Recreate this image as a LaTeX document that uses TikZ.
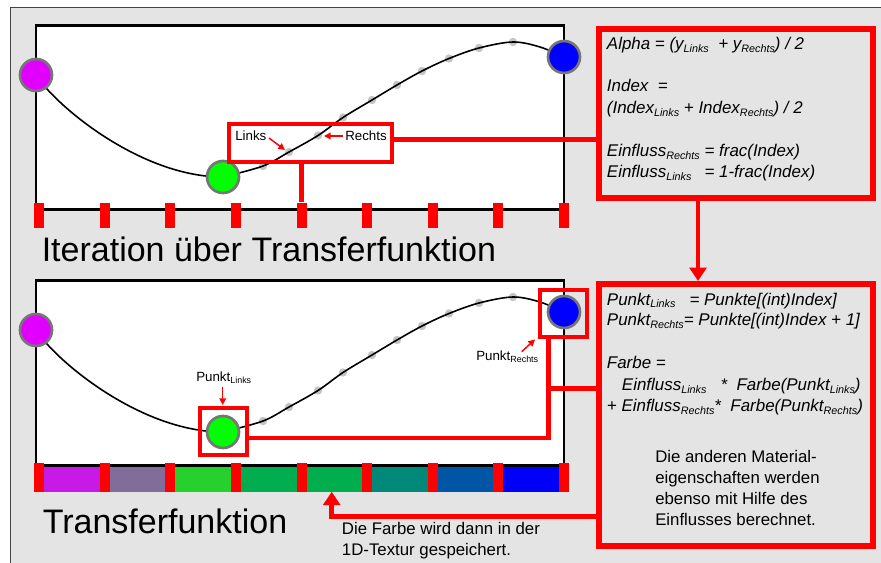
\documentclass[tikz,border=0pt]{standalone}
\usepackage{fontspec}
\setmainfont{Liberation Sans}
\usetikzlibrary{arrows.meta,calc}
\definecolor{bggray}{HTML}{E4E4E4}
\definecolor{framegray}{HTML}{444444}
\definecolor{ringgray}{HTML}{767676}
\definecolor{dotgray}{HTML}{C4C4C4}
\definecolor{mag}{HTML}{E100FF}
\definecolor{grn}{HTML}{00FF00}
\definecolor{blu}{HTML}{0000FF}
\definecolor{cA}{HTML}{C81AE6}
\definecolor{cB}{HTML}{826C99}
\definecolor{cC}{HTML}{26D12E}
\definecolor{cD}{HTML}{00AE50}
\definecolor{cE}{HTML}{00AE4E}
\definecolor{cF}{HTML}{008878}
\definecolor{cG}{HTML}{0055A4}
\definecolor{cH}{HTML}{0000F8}
\newcommand\sbx[1]{\raisebox{-2.2pt}{\fontsize{8.1}{9}\selectfont #1}}
\newcommand\sbl[1]{\raisebox{-1.5pt}{\fontsize{6.7}{8}\selectfont #1}}
\begin{document}
\begin{tikzpicture}[x=0.75pt,y=-0.75pt,
  conn/.style={draw=red, line width=3.4pt},
  rbig/.style={draw=red, line width=4.5pt, fill=bggray, rectangle, inner sep=0pt},
  rsmall/.style={draw=red, line width=3pt, rectangle, inner sep=0pt},
  ball/.style={circle, draw=ringgray, line width=2pt, minimum size=24pt, inner sep=0pt},
  tickup/.style={rectangle, fill=red, inner sep=0pt, minimum width=7.5pt, minimum height=18.75pt},
  ticklo/.style={rectangle, fill=red, inner sep=0pt, minimum width=7.5pt, minimum height=21.75pt},
  txt/.style={anchor=base west, inner sep=0pt, font=\fontsize{12.6}{15}\selectfont},
  itxt/.style={anchor=base west, inner sep=0pt, font=\fontsize{12.7}{15}\selectfont\itshape},
  lbl/.style={anchor=base west, inner sep=0pt, font=\fontsize{10}{12}\selectfont},
  big/.style={anchor=base west, inner sep=0pt, font=\fontsize{25.5}{30}\selectfont},
  smallarr/.style={draw=red, line width=1.1pt, -{Triangle[length=5pt,width=5pt]}},
  bigarr/.style={conn, -{Triangle[length=10pt,width=12.5pt]}},
  curve/.style={line width=1.2pt}
]
\useasboundingbox (0,0) rectangle (881,563);
\clip (0,0) rectangle (881,563);
% background panel
\draw[draw=framegray, line width=1.1pt, fill=bggray] (10.5,7.5) rectangle (900,600);

% plot frames
\draw[line width=2pt, fill=white] (36,25.7) rectangle (564,209.7);
\draw[line width=2pt, fill=white] (36,280.3) rectangle (564,465.3);

% colour bar
\fill[cA] (39,466.7) rectangle (104.6,491.7);
\fill[cB] (104.6,466.7) rectangle (170.2,491.7);
\fill[cC] (170.2,466.7) rectangle (235.9,491.7);
\fill[cD] (235.9,466.7) rectangle (301.5,491.7);
\fill[cE] (301.5,466.7) rectangle (367.1,491.7);
\fill[cF] (367.1,466.7) rectangle (432.8,491.7);
\fill[cG] (432.8,466.7) rectangle (498.4,491.7);
\fill[cH] (498.4,466.7) rectangle (564,491.7);
\coordinate (barb) at (331.7,491.7);

% curves, dots, control points
\foreach \s in {0,255}{
  \begin{scope}[shift={(0,\s)}]
    \foreach \px/\py in {263/166,289/152,318/135.5,343/117.5,372/100,397/85,422/71,449/58.5,479/48,513/42}
      \fill[dotgray] (\px,\py) circle[radius=4.2];
    \draw[curve] (36,75) .. controls (55,105) and (140,177) .. (223,177);
    \draw[curve] plot[smooth,tension=0.55] coordinates {(223,177) (263,166) (289,152) (318,135.5) (343,117.5) (372,100) (397,85) (422,71) (449,58.5) (479,48) (513,42) (540,47) (564,57)};
    \node[ball, fill=mag] (mag\s) at (36,75) {};
    \node[ball, fill=grn] (grn\s) at (223,177) {};
    \node[ball, fill=blu] (blu\s) at (564,57) {};
  \end{scope}
}
\coordinate (d2) at (289,152);
\coordinate (d3) at (318,135.5);

% ticks
\foreach \i/\tx in {1/39,2/104.6,3/170.2,4/235.9,5/301.5,6/367.1,7/432.8,8/498.4,9/564}{
  \node[tickup] (t\i) at (\tx,215.2) {};
  \node[ticklo] (u\i) at (\tx,477.2) {};
}

% red boxes
\node[rsmall, minimum width=121.9pt, minimum height=28.4pt] (lrbox) at (310.75,142.75) {};
\node[rsmall, minimum width=35pt, minimum height=35pt] (sq1) at (223.7,431.8) {};
\node[rsmall, minimum width=35pt, minimum height=35pt] (sq2) at (563.7,313.2) {};
\node[rbig, minimum width=205.7pt, minimum height=126.6pt] (box1) at (736.15,113.9) {};
\node[rbig, minimum width=205.5pt, minimum height=196.5pt] (box2) at (736.3,415) {};

% connectors
\coordinate (y1) at (0,139.3);
\draw[conn] (lrbox.east |- y1) -- (box1.west |- y1);
\draw[conn] (lrbox.south -| t5) -- (t5.north);
\coordinate (a1) at (698,0);
\draw[bigarr] (box1.south -| a1) -- (box2.north -| a1);
\coordinate (j1) at (548.3,438);
\coordinate (j2) at (548.3,388.3);
\draw[conn] (sq1.east |- j1) -- (j1) -- (j1 |- sq2.south);
\draw[conn] (j2) -- (box2.west |- j2);
\coordinate (j3) at (331.7,516.5);
\draw[bigarr] (box2.west |- j3) -- (j3) -- (barb);

% small labels and arrows
\node[lbl] (tlinks) at (235,140.7) {Links};
\node[lbl] (trechts) at (345,140.7) {Rechts};
\coordinate (la) at (269,138);
\coordinate (lb) at (285,150);
\coordinate (ra) at (343.3,136);
\coordinate (rb) at (324,136);
\draw[smallarr] (la) -- (lb);
\draw[smallarr] (ra) -- (rb);
\node[lbl] (tpl) at (196,381.7) {Punkt\sbl{Links}};
\node[lbl] (tpr) at (476,360.7) {Punkt\sbl{Rechts}};
\coordinate (pla) at (222.7,386.7);
\coordinate (plb) at (222.7,405);
\coordinate (pra) at (521.7,351.7);
\coordinate (prb) at (535,339.5);
\draw[smallarr] (pla) -- (plb);
\draw[smallarr] (pra) -- (prb);

% big titles
\node[big] (title1) at (41.5,261.7) {Iteration über Transferfunktion};
\node[big] (title2) at (42.5,533.3) {Transferfunktion};

% bottom note
\node[txt] (n1) at (341.7,534) {Die Farbe wird dann in der};
\node[txt] (n2) at (341.7,555) {1D-Textur gespeichert.};

% box 1 text
\node[itxt] (b1l1) at (606.7,49.3) {Alpha = (y\sbx{Links}~~+ y\sbx{Rechts}) / 2};
\node[itxt] (b1l2) at (606.7,91.7) {Index~~=};
\node[itxt] (b1l3) at (606.7,113.3) {(Index\sbx{Links} + Index\sbx{Rechts}) / 2};
\node[itxt] (b1l4) at (606.7,156.7) {Einfluss\sbx{Rechts} = frac(Index)};
\node[itxt] (b1l5) at (606.7,177.3) {\rlap{Einfluss\sbx{Links}}\phantom{Einfluss\sbx{Rechts}} = 1-frac(Index)};

% box 2 text
\node[itxt] (b2l1) at (606.7,305) {Punkt\sbx{Links}~~~= Punkte[(int)Index]};
\node[itxt] (b2l2) at (606.7,325.8) {Punkt\sbx{Rechts}= Punkte[(int)Index + 1]};
\node[itxt] (b2l3) at (606.7,368.3) {Farbe =};
\node[itxt] (b2l4) at (621.7,390.5) {Einfluss\sbx{Links}~~~*~~Farbe(Punkt\sbx{Links})};
\node[itxt] (b2l5) at (606.7,411.8) {+ Einfluss\sbx{Rechts}*~~Farbe(Punkt\sbx{Rechts})};
\node[txt] (b2u1) at (655,462.7) {Die anderen Material-};
\node[txt] (b2u2) at (655,483.5) {eigenschaften werden};
\node[txt] (b2u3) at (655,504.2) {ebenso mit Hilfe des};
\node[txt] (b2u4) at (655,525) {Einflusses berechnet.};
\end{tikzpicture}
\end{document}
